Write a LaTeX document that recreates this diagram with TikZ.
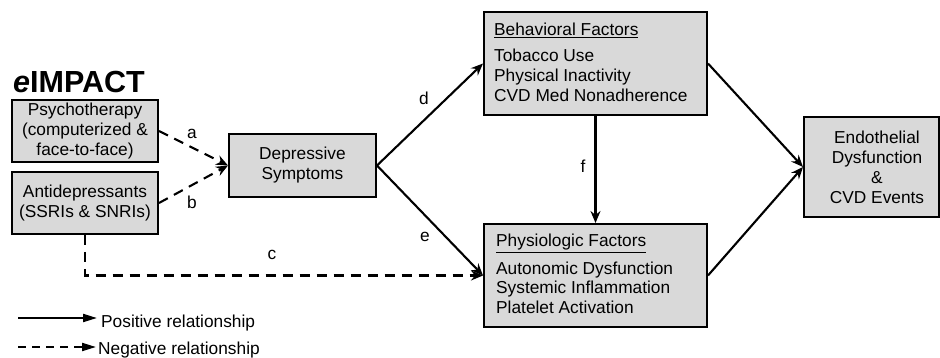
\documentclass[tikz,border=0pt]{standalone}
\usepackage{fontspec}
\setmainfont{Liberation Sans}
\usetikzlibrary{arrows.meta}
\definecolor{boxgray}{RGB}{217,217,217}
\begin{document}
\begin{tikzpicture}[x=1pt,y=-1pt,
  every node/.style={font=\fontsize{17.3}{20}\selectfont, inner sep=0pt},
  boxnode/.style={draw=black, line width=2pt, fill=boxgray, anchor=north west, inner sep=0pt, align=center},
  conn/.style={line width=2.1pt, -{Stealth[length=12pt,width=10pt,inset=4pt]}},
  negconn/.style={conn, dash pattern=on 10pt off 7pt},
  txtline/.style={anchor=base west},
  legsolid/.style={line width=2.1pt, -{Triangle[length=14pt,width=8pt]}},
  legdash/.style={legsolid, dash pattern=on 8pt off 6pt}
]
\useasboundingbox (0,0) rectangle (940,358);

% title
\node[anchor=base west, font=\fontsize{30.5}{36}\selectfont\bfseries] (title) at (13,93) {\textit{e}IMPACT};

% boxes
\node[boxnode, minimum width=146, minimum height=62] (psy) at (11,99) {Psychotherapy\\(computerized \&\\face-to-face)};
\node[boxnode, minimum width=146, minimum height=62] (anti) at (11,171) {Antidepressants\\(SSRIs \& SNRIs)};
\node[boxnode, minimum width=147, minimum height=63] (dep) at (228,133) {Depressive\\Symptoms};
\node[boxnode, minimum width=223, minimum height=103] (beh) at (483,11) {};
\node[boxnode, minimum width=223, minimum height=103] (phys) at (483,223) {};
\node[boxnode, minimum width=135, minimum height=100] (endo) at (803,116) {};

% box texts
\node[txtline] (behh) at (494,36) {\underline{Behavioral Factors}};
\node[txtline] (beh1) at (494,62) {Tobacco Use};
\node[txtline] (beh2) at (494,82) {Physical Inactivity};
\node[txtline] (beh3) at (494,102) {CVD Med Nonadherence};

\node[txtline] (physh) at (496,247) {\underline{Physiologic Factors}};
\node[txtline] (phys1) at (496,274) {Autonomic Dysfunction};
\node[txtline] (phys2) at (496,293) {Systemic Inflammation};
\node[txtline] (phys3) at (496,313) {Platelet Activation};

\node[align=center] (endotxt) at (877,167) {Endothelial\\Dysfunction\\\&\\CVD Events};

% connectors
\draw[negconn] (psy.east) -- (dep.west);
\draw[negconn] (anti.east) -- (dep.west);
\draw[negconn] (anti.south) |- (phys.west);
\draw[conn] (dep.east) -- (beh.west);
\draw[conn] (dep.east) -- (phys.west);
\draw[conn] (beh.south) -- (phys.north);
\draw[conn] (beh.east) -- (endo.west);
\draw[conn] (phys.east) -- (endo.west);

% labels
\node (la) at (192,134) {a};
\node (lb) at (192,202) {b};
\node (lc) at (272,255) {c};
\node (ld) at (424,98) {d};
\node (le) at (425,237) {e};
\node (lf) at (583,166) {f};

% legend
\coordinate (lp1) at (18,318);
\coordinate (lp2) at (97,318);
\coordinate (ln1) at (18,347);
\coordinate (ln2) at (96,347);
\draw[legsolid] (lp1) -- (lp2);
\draw[legdash] (ln1) -- (ln2);
\node[anchor=base west] (lpos) at (101,327) {Positive relationship};
\node[anchor=base west] (lneg) at (98,354) {Negative relationship};
\end{tikzpicture}
\end{document}
